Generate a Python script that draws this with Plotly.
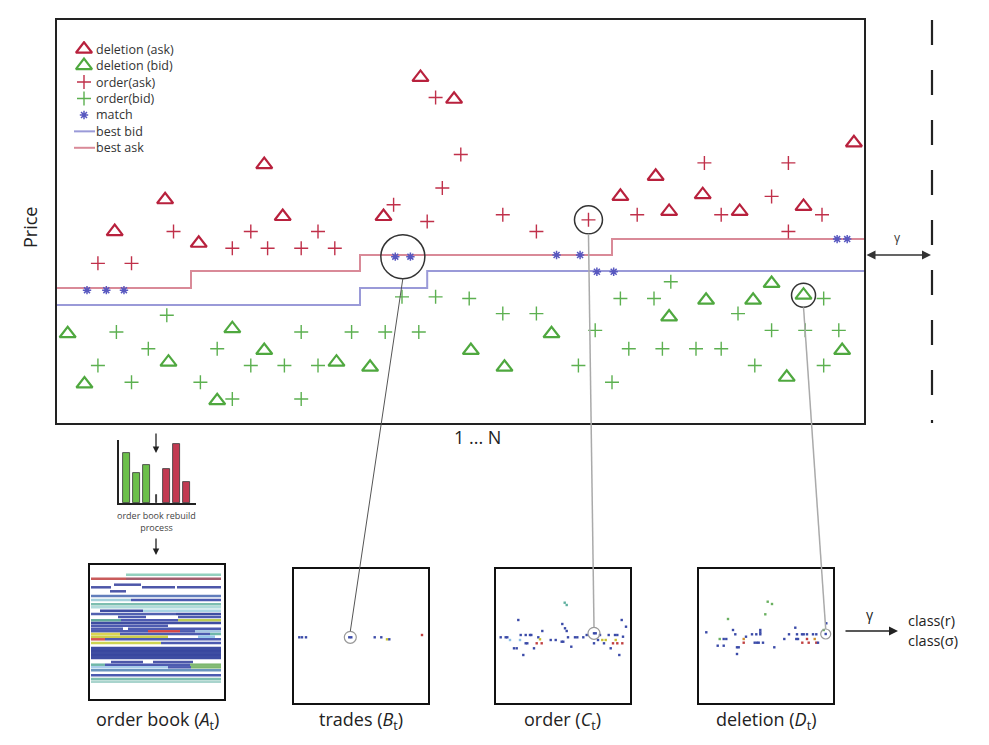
import plotly.graph_objects as go

W, H = 989, 745
FONT = "Open Sans"

# ---------------- main chart data (time index t, price level k) ----------------
del_ask_t = [2.9, 5.9, 7.9, 11.8, 12.9, 18.9, 21.1, 23.1, 33.0, 35.1, 35.9, 37.9, 40.1, 43.9, 46.9]
del_ask_k = [10.0, 11.9, 9.3, 14.0, 10.9, 10.9, 19.2, 17.9, 12.1, 13.3, 11.2, 12.2, 11.2, 11.5, 15.3]

del_bid_t = [0.1, 1.1, 6.1, 9.9, 11.8, 9.0, 16.1, 18.1, 24.1, 26.1, 28.9, 35.9, 38.1, 40.9, 42.0, 43.9, 42.9, 46.2]
del_bid_k = [3.9, 0.9, 2.2, 4.2, 2.9, -0.1, 2.2, 1.9, 2.9, 1.9, 3.9, 4.9, 5.9, 5.9, 6.9, 6.2, 1.3, 2.9]

ord_ask_t = [1.9, 3.9, 6.4, 9.9, 11.0, 12.0, 14.0, 15.0, 16.0, 19.5, 21.5, 22.4, 22.0, 23.5, 26.0, 28.0,
             31.1, 34.0, 38.0, 39.0, 42.0, 43.0, 43.0, 45.0]
ord_ask_k = [8.1, 8.1, 10.0, 9.0, 10.0, 9.0, 9.0, 10.0, 9.0, 11.6, 10.6, 12.6, 18.0, 14.6, 11.0, 10.0,
             10.7, 11.0, 14.1, 11.0, 12.1, 14.1, 10.0, 11.0]

ord_bid_t = [20.0, 22.0, 6.0, 3.0, 14.0, 17.0, 19.0, 21.0, 4.9, 9.0, 1.9, 11.0, 13.0, 15.0, 3.9, 8.0, 9.9, 14.0,
             24.0, 26.0, 28.0, 31.5, 30.5, 32.5, 33.0, 35.0, 36.0, 33.5, 35.5, 37.5, 39.0, 40.0, 42.0, 44.0,
             46.0, 41.0, 45.1, 45.1]
ord_bid_k = [6.1, 6.1, 5.0, 4.0, 4.0, 4.0, 4.0, 4.0, 3.0, 3.0, 2.0, 2.0, 2.0, 2.0, 1.0, 1.0, 0.0, 0.0,
             6.0, 5.1, 5.1, 4.1, 2.0, 1.0, 6.0, 6.0, 7.0, 3.0, 3.0, 3.0, 3.0, 5.1, 4.1, 4.1,
             4.1, 2.0, 2.0, 6.0]

match_t = [1.25, 2.4, 3.45, 19.6, 20.5, 29.2, 30.6, 31.6, 32.6, 45.9, 46.5]
match_k = [6.5, 6.5, 6.5, 8.5, 8.5, 8.6, 8.6, 7.6, 7.6, 9.55, 9.55]

best_ask_t = [-0.54, 7.44, 17.5, 32.5, 47.5]
best_ask_k = [6.63, 7.64, 8.6, 9.55, 9.55]
best_bid_t = [-0.54, 17.5, 21.5, 47.5]
best_bid_k = [5.61, 6.63, 7.64, 7.64]

legend_names = ["deletion (ask)", "deletion (bid)", "order(ask)", "order(bid)", "match", "best bid", "best ask"]

# ---------------- order book rebuild bars ----------------
bar_pos = [1, 2, 3, 4, 5, 6, 7]
bar_val = [50, 30, 38, 8, 34, 59, 21]
bar_col = ["#6cc04a", "#6cc04a", "#6cc04a", "#222222", "#c23a52", "#c23a52", "#c23a52"]
bar_wid = [0.7, 0.7, 0.7, 0.15, 0.7, 0.7, 0.7]

# ---------------- order book stripes (row, start, end, colour) ----------------
ob_rows = [9.7, 13.7, 13.7, 19.7, 22.3, 22.3, 22.3, 26.3, 31, 35, 35, 39.3, 42.3, 45.7, 45.7, 49, 49,
           52, 52, 55.3, 55.3, 55.3, 58, 60.7, 63.7, 63.7, 66.3, 66.3, 66.3, 66.3, 69, 69, 69,
           71.7, 71.7, 74.3, 74.3, 78, 78, 84, 88, 92, 97, 97, 99.7, 99.7, 99.7, 102.3, 102.3, 102.3,
           105.3, 110.3, 114, 116.7]
ob_start = [36, 1, 36, 24, 1, 52, 87, 20, 1, 1, 41, 1, 1, 10, 53, 1, 86,
            28, 88, 1, 31, 88, 1, 1, 1, 38, 1, 58, 90, 105, 1, 30, 120,
            1, 108, 1, 15, 1, 71, 1, 1, 1, 21, 63, 1, 15, 100, 1, 78, 101,
            1, 1, 1, 1]
ob_end = [131, 36, 131, 51, 21, 85, 131, 36, 131, 41, 131, 131, 131, 53, 131, 86, 131,
          56, 131, 31, 88, 131, 131, 78, 33, 131, 58, 90, 105, 131, 30, 120, 131,
          78, 125, 15, 131, 71, 131, 131, 131, 131, 53, 103, 15, 100, 131, 78, 101, 131,
          131, 131, 131, 131]
ob_col = ["#88ccb8", "#c44a4a", "#9a4c5e", "#3a45a0", "#3a45a0", "#3a45a0", "#3a45a0", "#3a45a0", "#5070b4",
          "#9ccbd8", "#3a4aa8", "#70b8a8", "#a8d8d8", "#2a3a98", "#a0d0e0", "#4050a8", "#2a3a98",
          "#3a4aa8", "#3a4aa8", "#50a090", "#3a4aa8", "#b8c840", "#2a3a98", "#3a4aa8", "#3a4aa8", "#3a4aa8",
          "#3a4aa8", "#d03030", "#3a4aa8", "#9cc0e0", "#d8d040", "#3a4aa8", "#60b0a0",
          "#c8c838", "#8cc0e8", "#d04040", "#3a4aa8", "#c8d040", "#3a4aa8", "#2a3a98", "#2a3a98", "#2a3a98",
          "#3a45a0", "#3a45a0", "#60b0a0", "#3a4aa8", "#70b060", "#a0c8e8", "#3a4aa8", "#70b060",
          "#5a8ab8", "#3a4aa8", "#70b8a8", "#a0d0c8"]

# ---------------- small scatter panels (box-local units) ----------------
tr_x = [5.3, 8.0, 12.0, 55.3, 57.3, 80.7, 87.3, 93.0, 95.3, 128.0]
tr_y = [68.3, 68.3, 68.3, 68.3, 68.3, 68.3, 68.3, 70.3, 70.3, 66.0]
tr_c = ["#3a4aa8"] * 7 + ["#c8c030", "#3a4aa8", "#c04040"]

or_x = [68.7, 70.7, 22.3, 66.3, 69.0, 70.7, 125.7, 130.0,
        4.7, 9.7, 11.3, 24.7, 29.7, 34.0, 35.3, 46.3, 42.3, 44.0, 54.7, 59.7, 72.0, 79.0, 81.3, 87.3, 90.7,
        98.0, 99.7, 104.0, 112.7, 119.0, 121.3, 127.0,
        14.0, 24.0, 29.7, 31.3, 40.7, 45.7, 65.7, 67.3, 102.0, 106.3, 109.7, 119.7,
        98.0, 108.0, 117.0, 121.3, 126.3,
        18.0, 20.7, 38.0, 75.3, 114.7, 27.3, 123.3]
or_y = [33.7, 36.0, 51.0, 55.0, 59.3, 62.0, 51.0, 57.7,
        68.3, 68.3, 68.3, 66.0, 66.0, 66.0, 66.0, 62.0, 68.3, 70.3, 71.0, 71.0, 68.3, 68.3, 68.3, 68.3, 66.0,
        64.3, 64.3, 66.0, 66.0, 66.0, 66.0, 67.7,
        71.0, 71.0, 74.3, 74.3, 74.3, 74.3, 72.7, 72.7, 71.0, 71.0, 71.0, 71.0,
        74.3, 74.3, 74.3, 74.3, 74.3,
        79.3, 79.3, 79.3, 77.7, 79.3, 86.0, 86.0]
or_c = ["#60b0a0", "#60b0a0"] + ["#3a4aa8"] * 6 + \
       ["#3a4aa8"] * 7 + ["#3a4aa8", "#3a4aa8", "#c8c030"] + ["#3a4aa8"] * 14 + \
       ["#8cc0e8", "#8cc0e8", "#3a4aa8", "#3a4aa8", "#c04040", "#c04040", "#3a4aa8", "#3a4aa8",
        "#3a4aa8", "#c8c030", "#c8c030", "#c8c030"] + \
       ["#3a4aa8", "#3a4aa8", "#c04040", "#c04040", "#c04040"] + ["#3a4aa8"] * 7

de_x = [68.7, 73.0, 66.3, 29.0, 7.3, 34.0, 36.3, 20.7, 24.7, 27.3, 18.7, 24.7, 38.0, 39.7, 38.0,
        47.0, 44.7, 44.7, 53.0, 57.3, 61.3, 61.3, 61.3, 55.7, 58.0, 59.7, 64.0, 75.3,
        85.3, 90.0, 96.3, 98.0, 97.3, 99.0, 103.0, 104.7, 108.0,
        103.3, 108.0, 109.7, 114.0, 117.3, 115.7, 117.3, 119.0, 124.7, 127.3, 126.7]
de_y = [32.7, 35.0, 45.3, 50.0, 63.3, 61.0, 65.3, 70.0, 70.0, 70.0, 76.7, 76.7, 78.3, 78.3, 85.0,
        67.7, 70.0, 73.7, 65.3, 65.3, 61.0, 63.3, 65.3, 73.7, 73.7, 73.7, 73.7, 78.3,
        70.0, 65.3, 58.7, 65.3, 70.0, 70.0, 65.3, 65.3, 65.3,
        73.7, 70.0, 73.7, 65.3, 65.3, 70.0, 73.7, 73.7, 61.0, 54.3, 65.0]
de_c = ["#6ab060", "#6ab060", "#6ab060", "#6ab060", "#3a4aa8", "#3a4aa8", "#3a4aa8", "#6ab060",
        "#3a4aa8", "#3a4aa8", "#3a4aa8", "#3a4aa8", "#3a4aa8", "#3a4aa8", "#3a4aa8",
        "#3a4aa8", "#d09030", "#c04040", "#3a4aa8", "#3a4aa8", "#3a4aa8", "#3a4aa8", "#3a4aa8",
        "#3a4aa8", "#3a4aa8", "#3a4aa8", "#3a4aa8", "#3a4aa8",
        "#3a4aa8", "#3a4aa8", "#3a4aa8", "#3a4aa8", "#3a4aa8", "#3a4aa8", "#3a4aa8", "#3a4aa8", "#3a4aa8",
        "#c04040", "#c04040", "#c04040", "#3a4aa8", "#3a4aa8", "#d09030", "#c04040", "#3a4aa8",
        "#6ab060", "#3a4aa8", "#3a4aa8"]

# ---------------- layout geometry (pixels) ----------------
def px_dom_x(a, b):
    return [a / W, b / W]

def px_dom_y(top, bottom):
    return [1 - bottom / H, 1 - top / H]

MAIN_X = px_dom_x(57, 864)
MAIN_Y = px_dom_y(20, 423)
MAIN_XR = [-0.536, 47.5]
MAIN_YR = [-1.43, 22.63]
BAR_X = px_dom_x(119, 196)
BAR_Y = px_dom_y(440, 503)
LEG_X = px_dom_x(68, 200)
LEG_Y = px_dom_y(41, 156)
BOXES = {
    "ob": (px_dom_x(90, 224), px_dom_y(565, 699)),
    "tr": (px_dom_x(294, 428), px_dom_y(569, 703)),
    "or": (px_dom_x(496, 630), px_dom_y(569, 703)),
    "de": (px_dom_x(699, 833), px_dom_y(569, 703)),
}
BOX_R = [0, 134]


def to_paper(dx, dy, rx, ry, x, y):
    px = dx[0] + (x - rx[0]) / (rx[1] - rx[0]) * (dx[1] - dx[0])
    py = dy[0] + (y - ry[0]) / (ry[1] - ry[0]) * (dy[1] - dy[0])
    return px, py


fig = go.Figure()

RED = "#b8213d"
GREEN = "#4fa83f"
BLUE = "#5858c0"
ORD_RED = "#c0304a"
ORD_GREEN = "#5cb050"
LINE_BLUE = "#9a9ad8"
LINE_RED = "#d98a98"

styles = {
    "deletion (ask)": dict(symbol="triangle-up-open", size=14, color=RED, line=dict(width=2.2, color=RED)),
    "deletion (bid)": dict(symbol="triangle-up-open", size=14, color=GREEN, line=dict(width=2.2, color=GREEN)),
    "order(ask)": dict(symbol="cross-thin-open", size=10, color=ORD_RED, line=dict(width=1.4, color=ORD_RED)),
    "order(bid)": dict(symbol="cross-thin-open", size=10, color=ORD_GREEN, line=dict(width=1.4, color=ORD_GREEN)),
    "match": dict(symbol="asterisk-open", size=7, color=BLUE, line=dict(width=1.5, color=BLUE)),
}

fig.add_trace(go.Scatter(x=best_bid_t, y=best_bid_k, mode="lines", line=dict(shape="hv", color=LINE_BLUE, width=2)))
fig.add_trace(go.Scatter(x=best_ask_t, y=best_ask_k, mode="lines", line=dict(shape="hv", color=LINE_RED, width=2)))
fig.add_trace(go.Scatter(x=del_ask_t, y=del_ask_k, mode="markers", marker=styles["deletion (ask)"]))
fig.add_trace(go.Scatter(x=del_bid_t, y=del_bid_k, mode="markers", marker=styles["deletion (bid)"]))
fig.add_trace(go.Scatter(x=ord_ask_t, y=ord_ask_k, mode="markers", marker=styles["order(ask)"]))
fig.add_trace(go.Scatter(x=ord_bid_t, y=ord_bid_k, mode="markers", marker=styles["order(bid)"]))
fig.add_trace(go.Scatter(x=match_t, y=match_k, mode="markers", marker=styles["match"]))

# custom legend (own small axis, one row per legend entry)
for i, name in enumerate(legend_names):
    if name in styles:
        fig.add_trace(go.Scatter(x=[16], y=[i], mode="markers", xaxis="x7", yaxis="y7", marker=styles[name]))
    else:
        col = LINE_BLUE if name == "best bid" else LINE_RED
        fig.add_trace(go.Scatter(x=[6, 27], y=[i, i], mode="lines", xaxis="x7", yaxis="y7",
                                 line=dict(color=col, width=2)))

# mini bar chart
fig.add_trace(go.Bar(x=bar_pos, y=bar_val, width=bar_wid, xaxis="x2", yaxis="y2",
                     marker=dict(color=bar_col, line=dict(color="#333333", width=0.8))))

# order book stripes
for r, a, b, c in zip(ob_rows, ob_start, ob_end, ob_col):
    fig.add_trace(go.Scatter(x=[a, b], y=[r, r], mode="lines", xaxis="x3", yaxis="y3", opacity=0.9,
                             line=dict(color=c, width=2.5 if r not in (84, 88, 92) else 4.6)))

# scatter panels
for (xs, ys, cs, ax) in [(tr_x, tr_y, tr_c, "4"), (or_x, or_y, or_c, "5"), (de_x, de_y, de_c, "6")]:
    fig.add_trace(go.Scatter(x=xs, y=ys, mode="markers", xaxis="x" + ax, yaxis="y" + ax,
                             marker=dict(symbol="square", size=2.4, color=cs)))

hidden = dict(showgrid=False, zeroline=False, showticklabels=False, ticks="")
box_axis = dict(hidden, range=BOX_R, showline=True, mirror=True, linecolor="#111111", linewidth=2)

layout = dict(
    width=W, height=H, margin=dict(l=0, r=0, t=0, b=0),
    plot_bgcolor="white", paper_bgcolor="white",
    font=dict(family=FONT, color="#222222"),
    showlegend=False,
    xaxis=dict(hidden, domain=MAIN_X, range=MAIN_XR, showline=True, mirror=True, linecolor="#222222", linewidth=1.6),
    yaxis=dict(hidden, domain=MAIN_Y, range=MAIN_YR, showline=True, mirror=True, linecolor="#222222", linewidth=1.6),
    xaxis2=dict(hidden, domain=BAR_X, range=[0.3, 7.9], anchor="y2", showline=True, linecolor="#222222", linewidth=1.5),
    yaxis2=dict(hidden, domain=BAR_Y, range=[0, 63], anchor="x2", showline=True, linecolor="#222222", linewidth=1.5),
    xaxis7=dict(hidden, domain=LEG_X, range=[0, 132], anchor="y7"),
    yaxis7=dict(hidden, domain=LEG_Y, range=[len(legend_names) - 0.5, -0.5], anchor="x7"),
    bargap=0,
)
for i, key in zip(["3", "4", "5", "6"], ["ob", "tr", "or", "de"]):
    dx, dy = BOXES[key]
    layout["xaxis" + i] = dict(box_axis, domain=dx, anchor="y" + i)
    layout["yaxis" + i] = dict(box_axis, domain=dy, anchor="x" + i, range=[BOX_R[1], BOX_R[0]])
fig.update_layout(**layout)

shapes = []

def circle_shape(xref, yref, x, y, r, color="#333333", w=1.5):
    return dict(type="circle", xref=xref, yref=yref, xsizemode="pixel", ysizemode="pixel",
                xanchor=x, yanchor=y, x0=-r, x1=r, y0=-r, y1=r, line=dict(color=color, width=w))

links = [
    (((match_t[3] + match_t[4]) / 2, match_k[3]), 22, "tr", ((tr_x[3] + tr_x[4]) / 2, tr_y[3]), 6, "#555555", 1),
    ((ord_ask_t[16], ord_ask_k[16]), 14, "or", (or_x[25], or_y[25]), 6, "#aaaaaa", 1.5),
    ((del_bid_t[15], del_bid_k[15]), 12, "de", (de_x[47], de_y[47]), 5, "#aaaaaa", 1.5),
]
axis_id = {"tr": "4", "or": "5", "de": "6"}
for (mp, mr, key, pp, pr, lc, lw) in links:
    shapes.append(circle_shape("x", "y", mp[0], mp[1], mr))
    i = axis_id[key]
    shapes.append(circle_shape("x" + i, "y" + i, pp[0], pp[1], pr, color="#999999", w=1.2))
    mx, my = to_paper(MAIN_X, MAIN_Y, MAIN_XR, MAIN_YR, mp[0], mp[1])
    dx, dy = BOXES[key]
    sx, sy = to_paper(dx, dy, BOX_R, [BOX_R[1], BOX_R[0]], pp[0], pp[1])
    shapes.append(dict(type="line", xref="paper", yref="paper", x0=mx, y0=my - mr / H, x1=sx, y1=sy + pr / H,
                       line=dict(color=lc, width=lw)))

shapes.append(dict(type="line", xref="paper", yref="paper", x0=932 / W, x1=932 / W, y0=1 - 20 / H, y1=1 - 423 / H,
                   line=dict(color="#222222", width=2.2, dash="25px,25px")))
fig.update_layout(shapes=shapes)

ann = []
for i, name in enumerate(legend_names):
    ann.append(dict(xref="x7", yref="y7", x=27, y=i, text=name, showarrow=False, xanchor="left", yanchor="middle",
                    borderpad=0, font=dict(size=12.5, color="#333333")))
ann.append(dict(xref="paper", yref="paper", x=931 / W, y=1 - 255 / H, ax=-66, ay=0, axref="pixel", ayref="pixel",
                text="", showarrow=True, arrowhead=2, startarrowhead=2, arrowside="end+start",
                arrowsize=1.2, arrowwidth=1.5, arrowcolor="#333333", startarrowsize=1.2))
ann.append(dict(xref="paper", yref="paper", x=897 / W, y=1 - 237 / H, text="γ", showarrow=False,
                xanchor="center", yanchor="middle", font=dict(size=12, color="#333333")))
ann.append(dict(xref="paper", yref="paper", x=30 / W, y=1 - 228 / H, text="Price", textangle=-90, showarrow=False,
                xanchor="center", yanchor="middle", font=dict(size=18, color="#222222")))
ann.append(dict(xref="paper", yref="paper", x=477 / W, y=1 - 437 / H, text="1 ... N", showarrow=False,
                xanchor="center", yanchor="middle", font=dict(size=18, color="#222222")))
ann.append(dict(xref="paper", yref="paper", x=156 / W, y=1 - 453 / H, ax=0, ay=-21, axref="pixel", ayref="pixel",
                text="", showarrow=True, arrowhead=2, arrowsize=1, arrowwidth=1.3, arrowcolor="#222222"))
ann.append(dict(xref="paper", yref="paper", x=156 / W, y=1 - 555 / H, ax=0, ay=-18, axref="pixel", ayref="pixel",
                text="", showarrow=True, arrowhead=2, arrowsize=1, arrowwidth=1.3, arrowcolor="#222222"))
ann.append(dict(xref="paper", yref="paper", x=156 / W, y=1 - 521 / H, text="order book rebuild<br>process",
                xanchor="center", yanchor="middle", showarrow=False, font=dict(size=9, color="#444444")))
for key, label in [("ob", "order book (<i>A</i><sub>t</sub>)"), ("tr", "trades (<i>B</i><sub>t</sub>)"),
                   ("or", "order (<i>C</i><sub>t</sub>)"), ("de", "deletion (<i>D</i><sub>t</sub>)")]:
    dx, dy = BOXES[key]
    ann.append(dict(xref="paper", yref="paper", x=(dx[0] + dx[1]) / 2, y=1 - 720 / H, text=label,
                    xanchor="center", yanchor="middle", showarrow=False, font=dict(size=18, color="#222222")))
ann.append(dict(xref="paper", yref="paper", x=898 / W, y=1 - 631 / H, ax=-54, ay=0, axref="pixel", ayref="pixel",
                text="", showarrow=True, arrowhead=2, arrowsize=1.2, arrowwidth=1.5, arrowcolor="#222222"))
ann.append(dict(xref="paper", yref="paper", x=870 / W, y=1 - 614 / H, text="γ", showarrow=False,
                xanchor="center", yanchor="middle", font=dict(size=14, color="#222222")))
ann.append(dict(xref="paper", yref="paper", x=907 / W, y=1 - 620 / H, xanchor="left", yanchor="middle",
                borderpad=0, text="class(r)", showarrow=False, font=dict(size=14.5, color="#222222")))
ann.append(dict(xref="paper", yref="paper", x=907 / W, y=1 - 640 / H, xanchor="left", yanchor="middle",
                borderpad=0, text="class(σ)", showarrow=False, font=dict(size=14.5, color="#222222")))
fig.update_layout(annotations=ann)

fig.write_html("out.html", post_script="document.body.style.margin='0';",
               config={"displayModeBar": False})
